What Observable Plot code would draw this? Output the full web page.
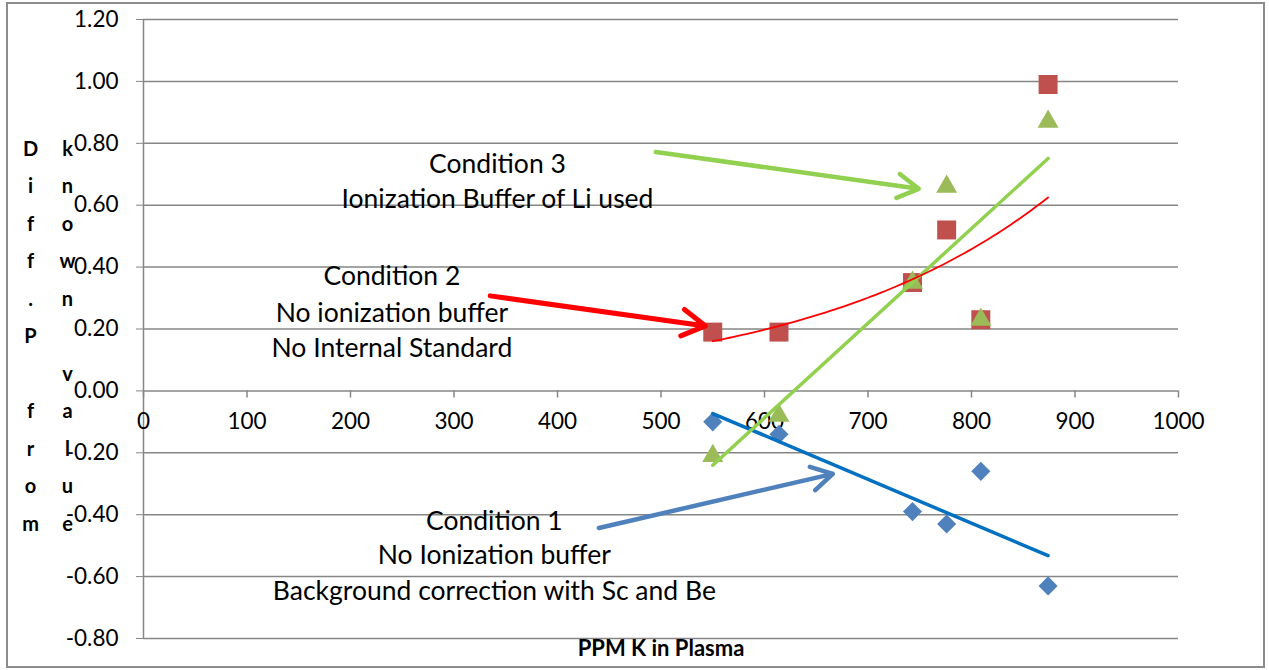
<!DOCTYPE html>
<html><head><meta charset="utf-8">
<script src="https://cdn.jsdelivr.net/npm/d3@7"></script>
<script src="https://cdn.jsdelivr.net/npm/@observablehq/plot@0.6"></script>
<style>
body{margin:0;background:#fff;}
#wrap{position:relative;width:1269px;height:670px;}
#frame{position:absolute;left:6px;top:2px;width:1259px;height:666px;border:2px solid #8c8c8c;box-sizing:border-box;pointer-events:none}
</style></head><body>
<div id="wrap"><div id="chart"></div><div id="frame"></div></div>
<script>
// ---- data ----
const ppmK = [550, 614, 743, 776, 809, 874];
const condition1 = [-0.10, -0.14, -0.39, -0.43, -0.26, -0.63]; // blue diamonds
const condition2 = [0.19, 0.19, 0.35, 0.52, 0.23, 0.99];       // red squares
const condition3 = [-0.21, -0.08, 0.35, 0.66, 0.23, 0.87];     // green triangles
const xTicks = [0, 100, 200, 300, 400, 500, 600, 700, 800, 900, 1000];
const yTicks = [-0.8, -0.6, -0.4, -0.2, 0, 0.2, 0.4, 0.6, 0.8, 1.0, 1.2];
const xTitle = "PPM K in Plasma";
const yTitleCol1 = "D\ni\nf\nf\n.\nP\n\nf\nr\no\nm";
const yTitleCol2 = "k\nn\no\nw\nn\n\nv\na\nl\nu\ne";

// annotation labels (data coordinates)
const labels3 = [{x: 342, y: 0.733, t: "Condition 3"}, {x: 342, y: 0.617, t: "Ionization Buffer of Li used"}];
const labels2 = [{x: 240, y: 0.368, t: "Condition 2"}, {x: 240, y: 0.249, t: "No ionization buffer"}, {x: 240, y: 0.136, t: "No Internal Standard"}];
const labels1 = [{x: 339, y: -0.423, t: "Condition 1"}, {x: 339, y: -0.533, t: "No Ionization buffer"}, {x: 339, y: -0.649, t: "Background correction with Sc and Be"}];
const arrow3 = [{x1: 495, y1: 0.772, x2: 749, y2: 0.653}];
const arrow2 = [{x1: 335, y1: 0.307, x2: 543, y2: 0.21}];
const arrow1 = [{x1: 440, y1: -0.443, x2: 666, y2: -0.268}];

const s1 = ppmK.map((x, i) => ({x, y: condition1[i]}));
const s2 = ppmK.map((x, i) => ({x, y: condition2[i]}));
const s3 = ppmK.map((x, i) => ({x, y: condition3[i]}));

// exponential least-squares trendline for condition 2 (fit of ln y on x)
function expFit(pts) {
  const mx = d3.mean(pts, d => d.x);
  const my = d3.mean(pts, d => Math.log(d.y));
  const b = d3.sum(pts, d => (d.x - mx) * (Math.log(d.y) - my)) / d3.sum(pts, d => (d.x - mx) ** 2);
  return x => Math.exp(my + b * (x - mx));
}
const f2 = expFit(s2);
const xs = d3.extent(ppmK);
const curve2 = d3.range(xs[0], xs[1] + 0.001, (xs[1] - xs[0]) / 80).map(x => ({x, y: f2(x)}));

const grid = "#868686";
const font = "Lato, Carlito, Calibri, sans-serif";

const chart = Plot.plot({
  width: 1269, height: 670,
  marginLeft: 143, marginRight: 91, marginTop: 19, marginBottom: 32,
  x: {domain: [0, 1000], axis: null},
  y: {domain: [-0.8, 1.2], axis: null},
  style: {fontFamily: font, fontSize: "22px", background: "white", color: "black", overflow: "visible"},
  marks: [
    Plot.ruleY(yTicks, {stroke: grid, strokeWidth: 1.5}),
    Plot.ruleX([0], {stroke: grid, strokeWidth: 1.5}),
    Plot.axisY(yTicks, {tickFormat: d => d.toFixed(2), tickSize: 7, tickPadding: 18, stroke: grid, fill: "black", fontSize: 22.5, label: null}),
    Plot.ruleX(xTicks, {x: d => d, y1: 0, y2: -0.023, stroke: grid, strokeWidth: 1.5}),
    Plot.text(xTicks, {x: d => d, y: 0, dy: 31, text: d => String(d), fontSize: 22.5, fill: "black"}),
    Plot.text([xTitle], {frameAnchor: "bottom", dy: 17, fontSize: 22, fontWeight: "bold", fill: "black"}),
    Plot.text([yTitleCol1], {frameAnchor: "left", dx: -113, dy: 2, textAnchor: "middle", fontSize: 20, fontWeight: "bold", lineHeight: 1.875, fill: "black"}),
    Plot.text([yTitleCol2], {frameAnchor: "left", dx: -76, dy: 2, textAnchor: "middle", fontSize: 20, fontWeight: "bold", lineHeight: 1.875, fill: "black"}),
    // markers
    Plot.dot(s2, {x: "x", y: "y", symbol: "square", r: 10.7, fill: "#C0504D"}),
    Plot.dot(s3, {x: "x", y: "y", symbol: "triangle", r: 7.8, fill: "#9BBB59"}),
    Plot.dot(s1, {x: "x", y: "y", symbol: "diamond2", r: 8.6, fill: "#4F81BD"}),
    // trendlines
    Plot.linearRegressionY(s1, {x: "x", y: "y", stroke: "#0070C0", strokeWidth: 3.5, ci: 0}),
    Plot.linearRegressionY(s3, {x: "x", y: "y", stroke: "#92D050", strokeWidth: 3.5, ci: 0}),
    Plot.line(curve2, {x: "x", y: "y", stroke: "#FF0000", strokeWidth: 1.8}),
    // annotations
    Plot.arrow(arrow3, {x1: "x1", y1: "y1", x2: "x2", y2: "y2", stroke: "#92D050", strokeWidth: 4.5}),
    Plot.arrow(arrow2, {x1: "x1", y1: "y1", x2: "x2", y2: "y2", stroke: "#FF0000", strokeWidth: 5}),
    Plot.arrow(arrow1, {x1: "x1", y1: "y1", x2: "x2", y2: "y2", stroke: "#4F81BD", strokeWidth: 4.5}),
    Plot.text(labels3, {x: "x", y: "y", text: "t", fontSize: 26.5, fill: "black"}),
    Plot.text(labels2, {x: "x", y: "y", text: "t", fontSize: 26.5, fill: "black"}),
    Plot.text(labels1, {x: "x", y: "y", text: "t", fontSize: 26.5, fill: "black"})
  ]
});
document.getElementById("chart").appendChild(chart);
</script>
</body></html>
